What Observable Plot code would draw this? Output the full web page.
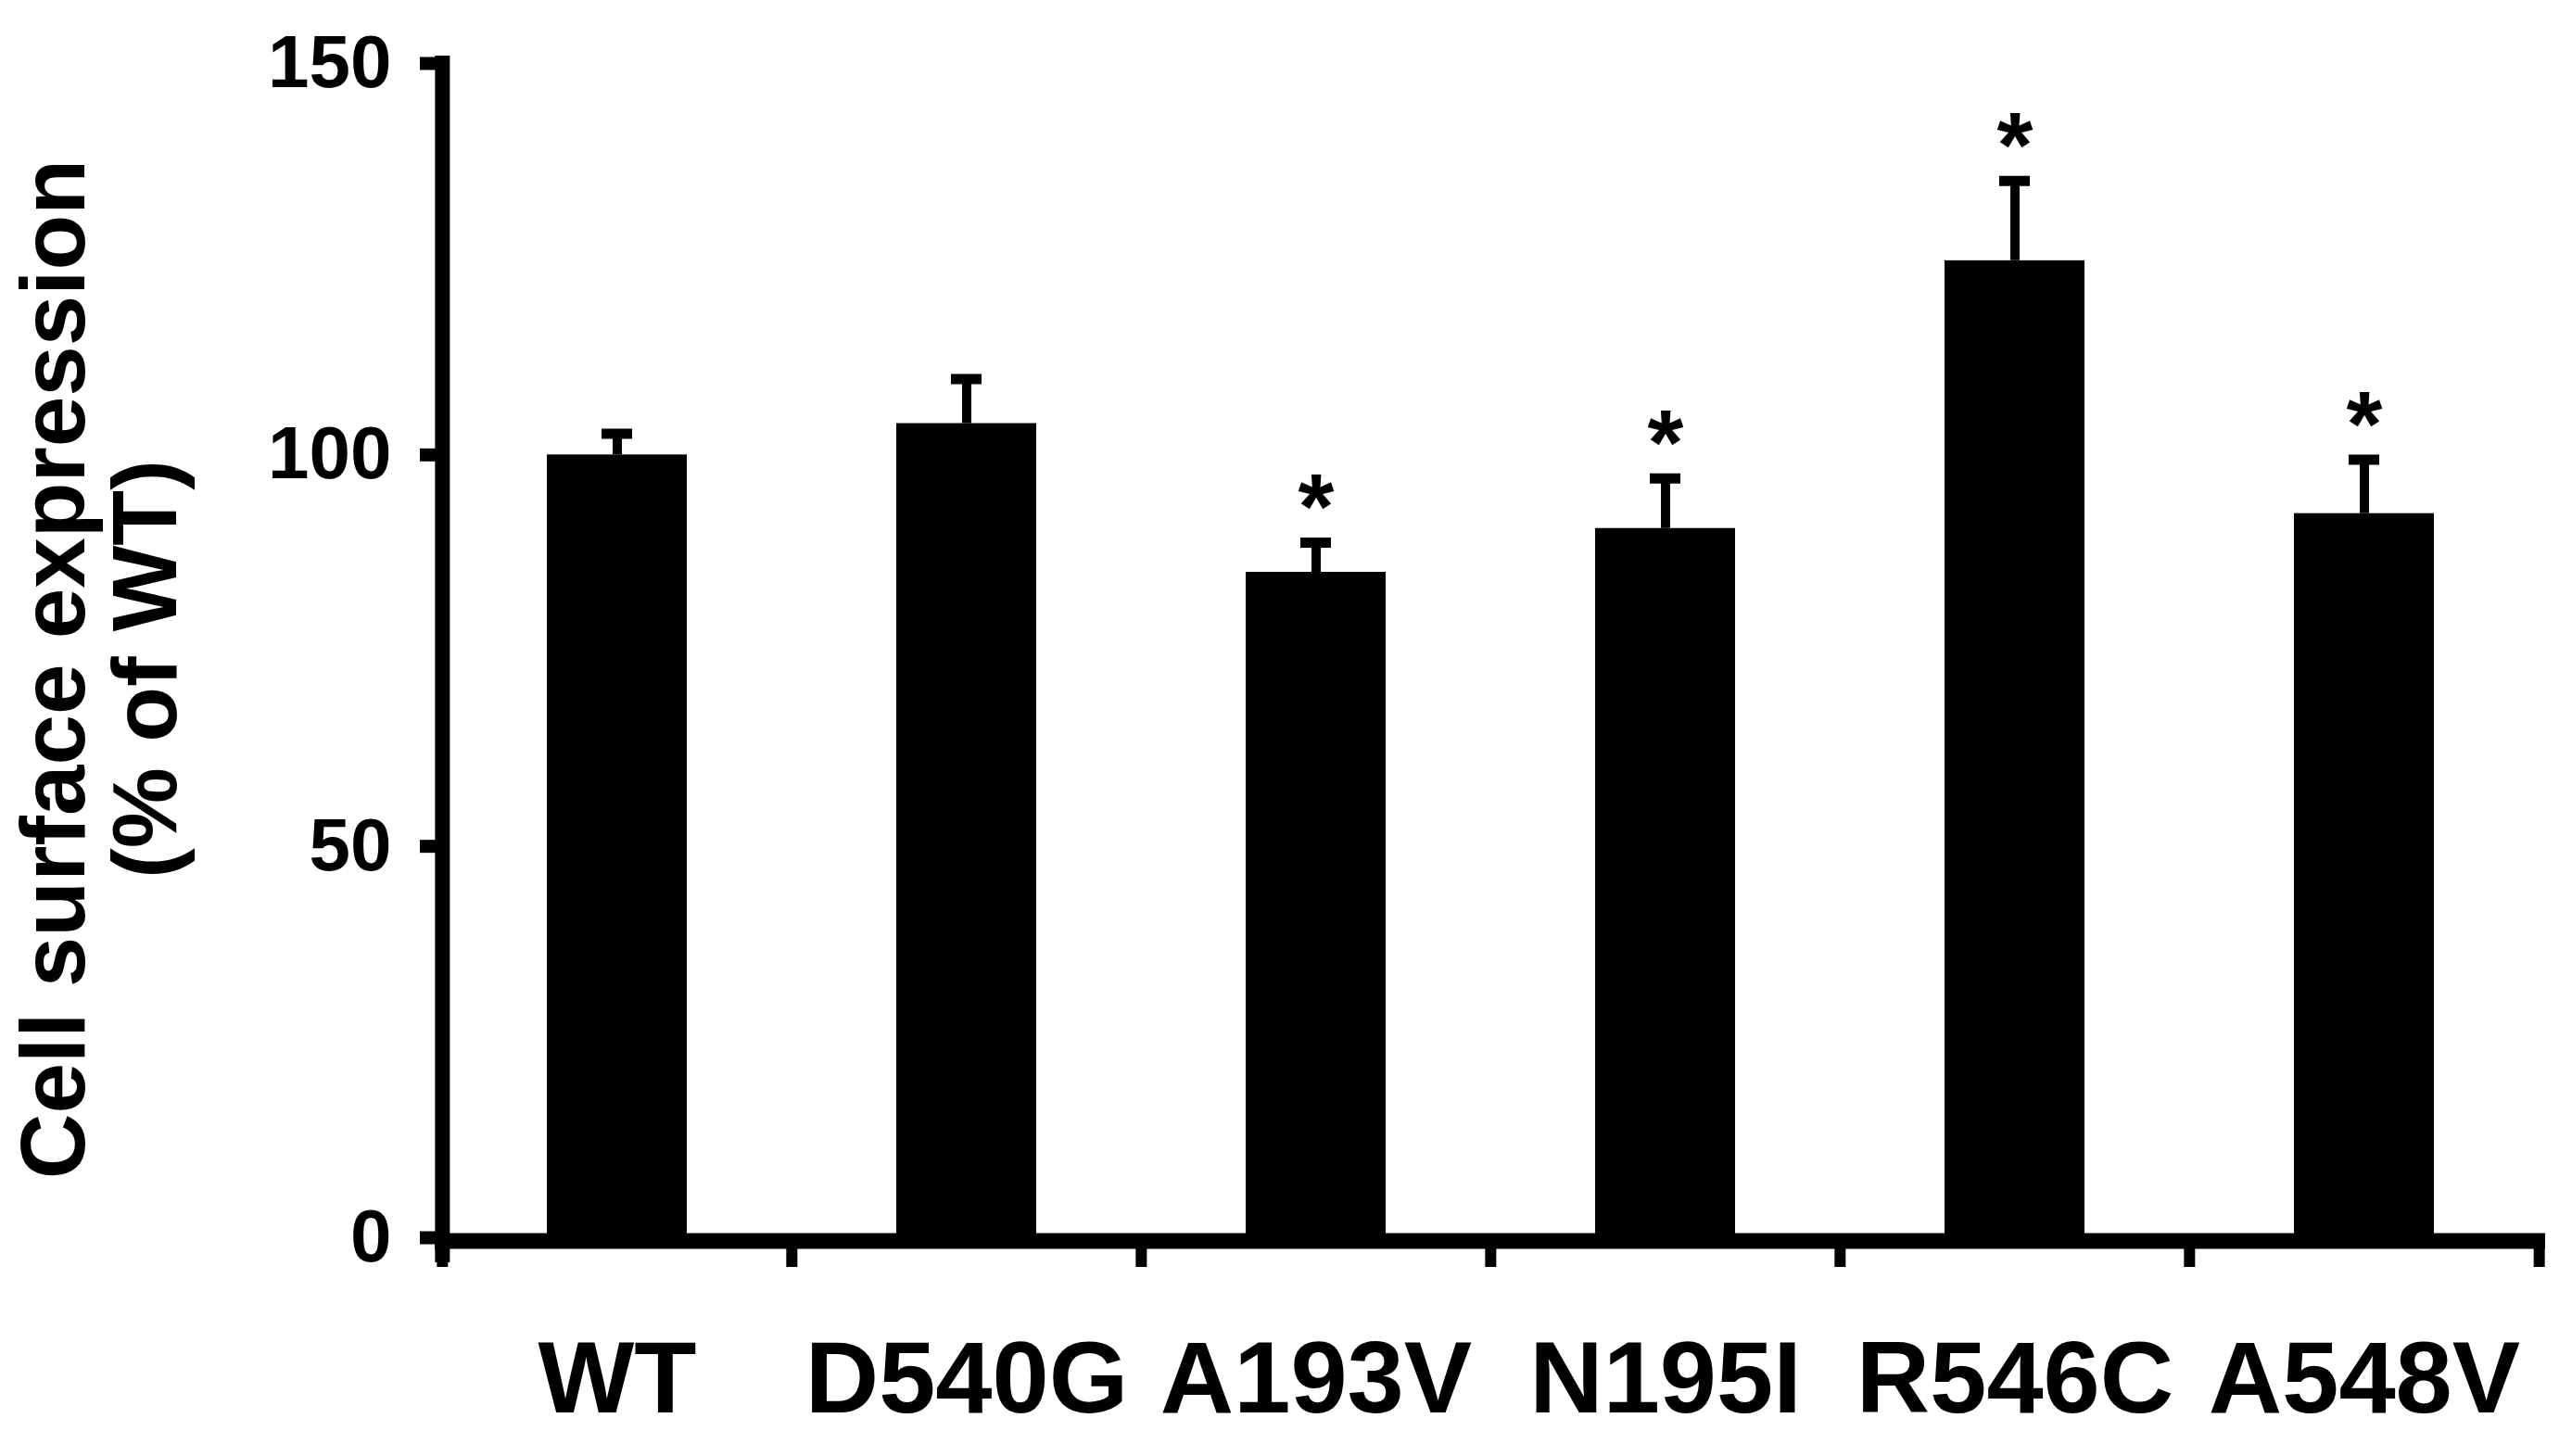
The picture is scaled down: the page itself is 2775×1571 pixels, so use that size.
<!DOCTYPE html>
<html>
<head>
<meta charset="utf-8">
<script src="https://cdn.jsdelivr.net/npm/d3@7"></script>
<script src="https://cdn.jsdelivr.net/npm/@observablehq/plot@0.6"></script>
<style>
  html, body { margin: 0; padding: 0; background: #ffffff; }
  #chart { width: 2775px; height: 1571px; }
</style>
</head>
<body>
<div id="chart"></div>
<script>
// ---- data ----
const categories = ["WT", "D540G", "A193V", "N195I", "R546C", "A548V"];
const means = [100, 104, 85, 90.6, 124.8, 92.5];
const sems = [2.7, 5.7, 3.8, 6.4, 10.2, 6.9];
const significant = [false, false, true, true, true, true];
const yTicks = [0, 50, 100, 150];
const yLabel = "Cell surface expression\n(% of WT)";

const data = categories.map((name, i) => ({
  name,
  mean: means[i],
  upper: means[i] + sems[i],
  sig: significant[i]
}));

const W = 2775, H = 1571;
const mL = 476, mR = 35, mT = 68, mB = 236;
const step = (W - mL - mR) / categories.length;
const font = "Liberation Sans, Arial, Helvetica, sans-serif";

const chart = Plot.plot({
  width: W,
  height: H,
  marginLeft: mL,
  marginRight: mR,
  marginTop: mT,
  marginBottom: mB,
  style: { fontFamily: font, fontWeight: "bold", background: "#ffffff", color: "#000000" },
  x: { type: "band", domain: categories, paddingInner: 0.6, paddingOuter: 0.3, axis: null },
  y: { domain: [0, 150], axis: null },
  marks: [
    // bars
    Plot.barY(data, { x: "name", y: "mean", fill: "#000000" }),
    // error stems
    Plot.ruleX(data, { x: "name", y1: "mean", y2: "upper", stroke: "#000000", strokeWidth: 10 }),
    // error caps
    Plot.tickY(data, { x: "name", y: "upper", stroke: "#000000", strokeWidth: 11, insetLeft: 59, insetRight: 59 }),
    // significance asterisks
    Plot.text(data.filter(d => d.sig), {
      x: "name", y: "upper", text: () => "*", dy: -75,
      lineAnchor: "top", textAnchor: "middle",
      fontSize: 100, fontWeight: "bold", fill: "#000000"
    }),
    // y axis line
    Plot.ruleX([categories[0]], {
      y1: 150, y2: 0, dx: -step / 2, insetTop: -8, insetBottom: -27,
      stroke: "#000000", strokeWidth: 16
    }),
    // x axis line
    Plot.ruleY([0], { dy: 3.5, insetLeft: -7, insetRight: -6, stroke: "#000000", strokeWidth: 17 }),
    // x axis ticks at band edges
    Plot.ruleX(categories, {
      y1: 0, y2: 0, dx: -step / 2, insetTop: 12, insetBottom: -32,
      stroke: "#000000", strokeWidth: 12
    }),
    Plot.ruleX([categories[categories.length - 1]], {
      y1: 0, y2: 0, dx: step / 2, insetTop: 12, insetBottom: -32,
      stroke: "#000000", strokeWidth: 12
    }),
    // y axis ticks and labels
    Plot.axisY({
      ticks: yTicks, tickSize: 23, tickPadding: 31, tickFormat: d => String(d),
      fontSize: 80, fontWeight: "bold", strokeWidth: 14, stroke: "#000000", fill: "#000000", label: null
    }),
    // x axis category labels
    Plot.axisX({
      tickSize: 0, tickPadding: 110, fontSize: 110, fontWeight: "bold", fill: "#000000", label: null
    }),
    // y axis title (two lines, rotated)
    Plot.text([yLabel], {
      frameAnchor: "left", rotate: -90, dx: -368, dy: 20,
      lineAnchor: "middle", textAnchor: "middle", lineHeight: 1.02,
      fontSize: 98, fontWeight: "bold", fill: "#000000"
    })
  ]
});

document.getElementById("chart").appendChild(chart);
</script>
</body>
</html>
